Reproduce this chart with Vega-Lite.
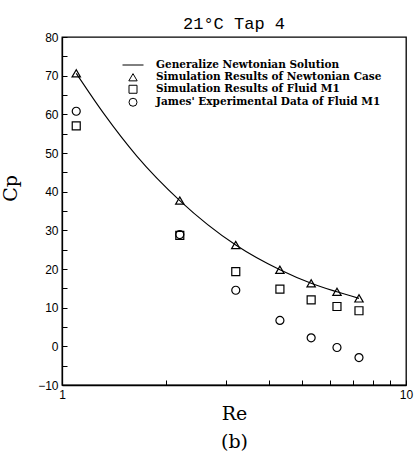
{
  "$schema": "https://vega.github.io/schema/vega-lite/v6.json",
  "width": 344,
  "height": 348,
  "autosize": "none",
  "padding": {"left": 62, "top": 37, "right": 9, "bottom": 70},
  "background": "white",
  "title": {
    "text": "21°C Tap 4",
    "font": "Liberation Mono",
    "fontSize": 17,
    "fontWeight": "normal",
    "color": "black",
    "offset": -2,
    "anchor": "middle"
  },
  "config": {
    "view": {"stroke": "black", "strokeWidth": 1.3},
    "axis": {
      "grid": false,
      "domainColor": "black",
      "domainWidth": 1.3,
      "tickColor": "black",
      "tickWidth": 1,
      "labelColor": "black",
      "labelFont": "Liberation Sans",
      "labelFontSize": 12,
      "titleColor": "black",
      "titleFont": "DejaVu Serif",
      "titleFontSize": 19,
      "titleFontWeight": "normal"
    }
  },
  "data": {
    "values": [
      {"series": "Generalize Newtonian Solution", "Re": 1.1, "Cp": 70.6},
      {"series": "Generalize Newtonian Solution", "Re": 1.32, "Cp": 60.3},
      {"series": "Generalize Newtonian Solution", "Re": 1.65, "Cp": 49.2},
      {"series": "Generalize Newtonian Solution", "Re": 2.2, "Cp": 37.7},
      {"series": "Generalize Newtonian Solution", "Re": 3.2, "Cp": 26.2},
      {"series": "Generalize Newtonian Solution", "Re": 4.3, "Cp": 19.8},
      {"series": "Generalize Newtonian Solution", "Re": 5.3, "Cp": 16.3},
      {"series": "Generalize Newtonian Solution", "Re": 6.3, "Cp": 14.1},
      {"series": "Generalize Newtonian Solution", "Re": 7.3, "Cp": 12.4},
      {"series": "Simulation Results of Newtonian Case", "Re": 1.1, "Cp": 70.6},
      {"series": "Simulation Results of Newtonian Case", "Re": 2.2, "Cp": 37.7},
      {"series": "Simulation Results of Newtonian Case", "Re": 3.2, "Cp": 26.2},
      {"series": "Simulation Results of Newtonian Case", "Re": 4.3, "Cp": 19.8},
      {"series": "Simulation Results of Newtonian Case", "Re": 5.3, "Cp": 16.3},
      {"series": "Simulation Results of Newtonian Case", "Re": 6.3, "Cp": 14.1},
      {"series": "Simulation Results of Newtonian Case", "Re": 7.3, "Cp": 12.4},
      {"series": "Simulation Results of Fluid M1", "Re": 1.1, "Cp": 57.0},
      {"series": "Simulation Results of Fluid M1", "Re": 2.2, "Cp": 28.7},
      {"series": "Simulation Results of Fluid M1", "Re": 3.2, "Cp": 19.3},
      {"series": "Simulation Results of Fluid M1", "Re": 4.3, "Cp": 14.8},
      {"series": "Simulation Results of Fluid M1", "Re": 5.3, "Cp": 12.0},
      {"series": "Simulation Results of Fluid M1", "Re": 6.3, "Cp": 10.3},
      {"series": "Simulation Results of Fluid M1", "Re": 7.3, "Cp": 9.2},
      {"series": "James' Experimental Data of Fluid M1", "Re": 1.1, "Cp": 60.8},
      {"series": "James' Experimental Data of Fluid M1", "Re": 2.2, "Cp": 28.9},
      {"series": "James' Experimental Data of Fluid M1", "Re": 3.2, "Cp": 14.5},
      {"series": "James' Experimental Data of Fluid M1", "Re": 4.3, "Cp": 6.7},
      {"series": "James' Experimental Data of Fluid M1", "Re": 5.3, "Cp": 2.2},
      {"series": "James' Experimental Data of Fluid M1", "Re": 6.3, "Cp": -0.3},
      {"series": "James' Experimental Data of Fluid M1", "Re": 7.3, "Cp": -2.9}
    ]
  },
  "encoding": {
    "x": {
      "field": "Re",
      "type": "quantitative",
      "scale": {"type": "log", "domain": [1, 10], "nice": false},
      "axis": {
        "title": ["Re", "(b)"],
        "titleLineHeight": 28,
        "titlePadding": 4,
        "values": [1, 2, 3, 4, 5, 6, 7, 8, 9, 10],
        "labelExpr": "datum.value == 1 || datum.value == 10 ? datum.label : ''",
        "format": "d",
        "tickSize": -5,
        "labelPadding": 9,
        "labelFlush": false
      }
    },
    "y": {
      "field": "Cp",
      "type": "quantitative",
      "scale": {"domain": [-10, 80], "nice": false},
      "axis": {
        "title": "Cp",
        "titleX": -42,
        "titleY": 151,
        "titleAngle": -90,
        "values": [-10, -5, 0, 5, 10, 15, 20, 25, 30, 35, 40, 45, 50, 55, 60, 65, 70, 75, 80],
        "labelExpr": "datum.value % 10 == 0 ? datum.label : ''",
        "tickSize": -5,
        "labelPadding": 9
      }
    }
  },
  "layer": [
    {
      "transform": [{"filter": "datum.series == 'Generalize Newtonian Solution'"}],
      "mark": {"type": "line", "color": "black", "strokeWidth": 1.1, "interpolate": "monotone"}
    },
    {
      "transform": [{"filter": "datum.series != 'Generalize Newtonian Solution'"}],
      "mark": {"type": "point", "filled": false, "color": "black", "strokeWidth": 1.2, "opacity": 1},
      "encoding": {
        "size": {
          "field": "series",
          "type": "nominal",
          "scale": {
            "type": "ordinal",
            "domain": [
              "Generalize Newtonian Solution",
              "Simulation Results of Newtonian Case",
              "Simulation Results of Fluid M1",
              "James' Experimental Data of Fluid M1"
            ],
            "range": [441, 70, 64, 64]
          }
        },
        "shape": {
          "field": "series",
          "type": "nominal",
          "scale": {
            "domain": [
              "Generalize Newtonian Solution",
              "Simulation Results of Newtonian Case",
              "Simulation Results of Fluid M1",
              "James' Experimental Data of Fluid M1"
            ],
            "range": ["stroke", "triangle-up", "square", "circle"]
          },
          "legend": {
            "title": null,
            "orient": "none",
            "legendX": 60,
            "legendY": 17,
            "labelFont": "DejaVu Serif",
            "labelFontSize": 10.5,
            "labelFontWeight": "bold",
            "labelColor": "black",
            "labelLimit": 400,
            "symbolStrokeColor": "black",
            "symbolFillColor": "transparent",
            "symbolStrokeWidth": 1,
            "rowPadding": 0,
            "labelOffset": 12
          }
        }
      }
    }
  ]
}
